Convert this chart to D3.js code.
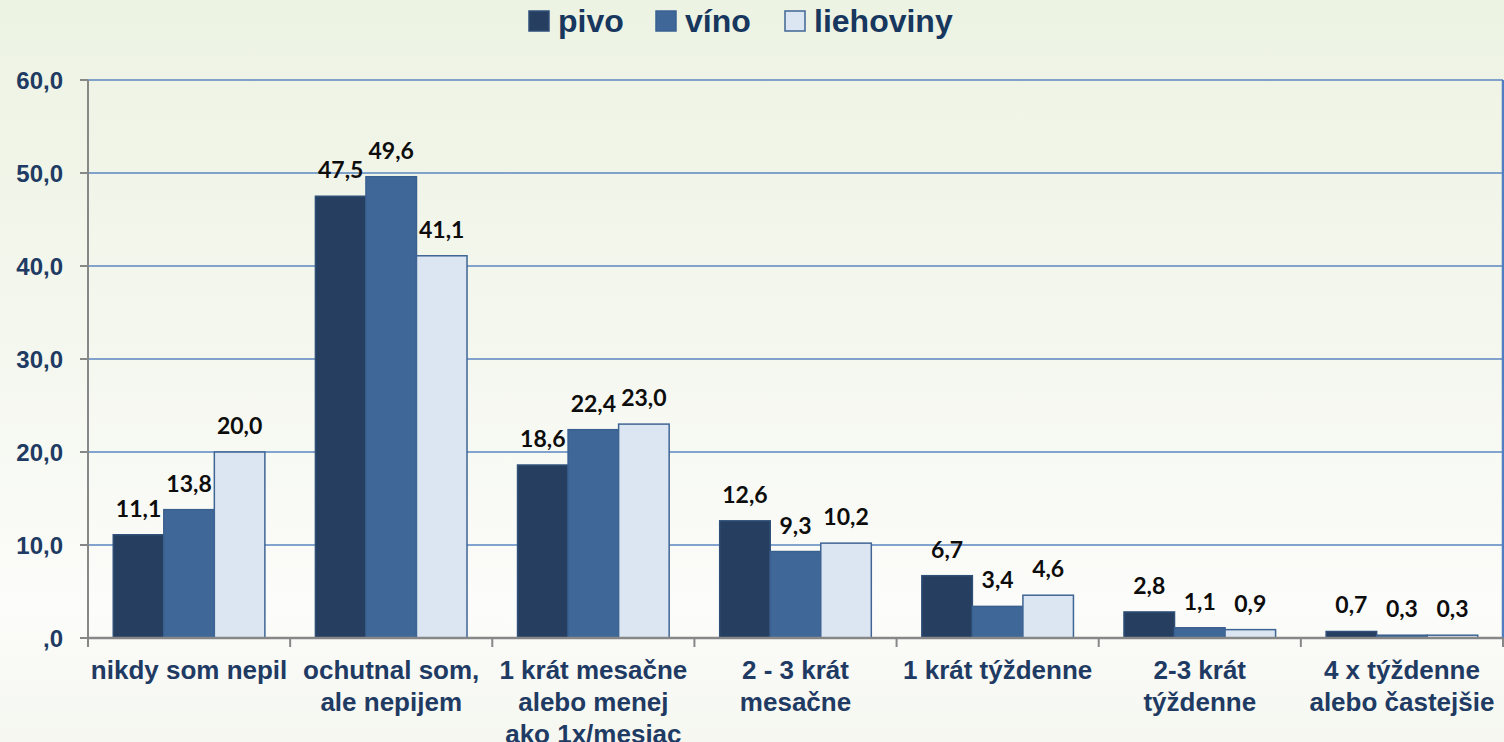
<!DOCTYPE html>
<html>
<head>
<meta charset="utf-8">
<script src="https://cdn.jsdelivr.net/npm/d3@7"></script>
<style>
  html, body { margin: 0; padding: 0; }
  body { width: 1504px; height: 742px; overflow: hidden; }
</style>
</head>
<body>
<svg id="chart" width="1504" height="742"></svg>
<script>
var categories = [
  ["nikdy som nepil"],
  ["ochutnal som,", "ale nepijem"],
  ["1 krát mesačne", "alebo menej", "ako 1x/mesiac"],
  ["2 - 3 krát", "mesačne"],
  ["1 krát týždenne"],
  ["2-3 krát", "týždenne"],
  ["4 x týždenne", "alebo častejšie"]
];
var seriesNames = ["pivo", "víno", "liehoviny"];
var pivo = [11.1, 47.5, 18.6, 12.6, 6.7, 2.8, 0.7];
var vino = [13.8, 49.6, 22.4, 9.3, 3.4, 1.1, 0.3];
var liehoviny = [20.0, 41.1, 23.0, 10.2, 4.6, 0.9, 0.3];
var yTicks = [0, 10, 20, 30, 40, 50, 60];

var fills = ["#263f61", "#3f6899", "#dce6f2"];
var strokes = ["#2f4f78", "#3a6090", "#3f6594"];
var values = [pivo, vino, liehoviny];

var svg = d3.select("#chart"),
    width = +svg.attr("width"),
    height = +svg.attr("height");

var plotLeft = 88, plotRight = 1503, plotTop = 80, plotBottom = 638;

// background gradient
var defs = svg.append("defs");
var grad = defs.append("linearGradient").attr("id", "bg")
    .attr("x1", 0).attr("y1", 0).attr("x2", 0).attr("y2", 1);
grad.append("stop").attr("offset", "0%").attr("stop-color", "#edf3e3");
grad.append("stop").attr("offset", "45%").attr("stop-color", "#f4f7ee");
grad.append("stop").attr("offset", "82%").attr("stop-color", "#fcfcfa");
grad.append("stop").attr("offset", "100%").attr("stop-color", "#f5f7f0");
svg.append("rect").attr("width", width).attr("height", height).attr("fill", "url(#bg)");

var catKeys = categories.map(function(c) { return c.join(" "); });

var x0 = d3.scaleBand().domain(catKeys).range([plotLeft, plotRight]).padding(0);
var x1 = d3.scaleBand().domain(seriesNames).range([0, x0.bandwidth()])
    .paddingInner(0).paddingOuter(0.5);
var y = d3.scaleLinear().domain([0, 60]).range([plotBottom, plotTop]);

// data labels: 0,7 ; axis: Excel "#,0" style gives ",0" for zero
function fmtLabel(v) {
  return d3.format(".1f")(v).replace(".", ",");
}
function fmtAxis(v) {
  var s = fmtLabel(v);
  if (s.indexOf("0,") === 0) s = s.slice(1);
  return s;
}

// grid lines
svg.append("g").selectAll("line")
    .data(yTicks.filter(function(d) { return d > 0; }))
    .enter().append("line")
    .attr("x1", plotLeft).attr("x2", plotRight)
    .attr("y1", function(d) { return y(d); })
    .attr("y2", function(d) { return y(d); })
    .attr("stroke", "#5a86c0").attr("stroke-width", 1.6);

// right border
svg.append("line")
    .attr("x1", plotRight).attr("x2", plotRight)
    .attr("y1", y(60)).attr("y2", plotBottom)
    .attr("stroke", "#4f7fc0").attr("stroke-width", 2.5);

// bars
var groups = svg.append("g").selectAll("g")
    .data(catKeys)
    .enter().append("g")
    .attr("transform", function(d) { return "translate(" + x0(d) + ",0)"; });

function rows(d, i) {
  return seriesNames.map(function(s, j) { return { s: s, j: j, v: values[j][i] }; });
}

groups.selectAll("rect")
    .data(rows)
    .enter().append("rect")
    .attr("x", function(d) { return x1(d.s); })
    .attr("width", x1.bandwidth())
    .attr("y", function(d) { return y(d.v); })
    .attr("height", function(d) { return y(0) - y(d.v); })
    .attr("fill", function(d) { return fills[d.j]; })
    .attr("stroke", function(d) { return strokes[d.j]; })
    .attr("stroke-width", 1.5);

groups.selectAll("text")
    .data(rows)
    .enter().append("text")
    .attr("x", function(d) { return x1(d.s) + x1.bandwidth() / 2; })
    .attr("y", function(d) { return y(d.v) - 18; })
    .attr("text-anchor", "middle")
    .attr("font-family", "Lato, 'Open Sans', sans-serif")
    .attr("font-weight", "bold")
    .attr("font-size", 23)
    .attr("fill", "#0d0d0d")
    .text(function(d) { return fmtLabel(d.v); });

// y axis
var axisColor = "#878787";
svg.append("line")
    .attr("x1", plotLeft).attr("x2", plotLeft).attr("y1", plotTop).attr("y2", plotBottom + 9)
    .attr("stroke", axisColor).attr("stroke-width", 2);
svg.append("g").selectAll("line")
    .data(yTicks).enter().append("line")
    .attr("x1", plotLeft - 8).attr("x2", plotLeft)
    .attr("y1", function(d) { return y(d); })
    .attr("y2", function(d) { return y(d); })
    .attr("stroke", axisColor).attr("stroke-width", 2);
svg.append("g").selectAll("text")
    .data(yTicks).enter().append("text")
    .attr("x", plotLeft - 25)
    .attr("y", function(d) { return y(d); })
    .attr("dy", "0.36em")
    .attr("text-anchor", "end")
    .attr("font-family", "'Liberation Sans', Arial, sans-serif")
    .attr("font-weight", "bold")
    .attr("font-size", 24)
    .attr("fill", "#1f3b63")
    .text(fmtAxis);

// x axis
svg.append("line")
    .attr("x1", plotLeft).attr("x2", plotRight).attr("y1", plotBottom).attr("y2", plotBottom)
    .attr("stroke", axisColor).attr("stroke-width", 2.5);
svg.append("g").selectAll("line")
    .data(catKeys.slice(1).concat(["end"])).enter().append("line")
    .attr("x1", function(d) { return d === "end" ? plotRight : x0(d); })
    .attr("x2", function(d) { return d === "end" ? plotRight : x0(d); })
    .attr("y1", plotBottom).attr("y2", plotBottom + 9)
    .attr("stroke", axisColor).attr("stroke-width", 2);

var catLabels = svg.append("g").selectAll("text")
    .data(categories).enter().append("text")
    .attr("x", function(d, i) { return x0(catKeys[i]) + x0.bandwidth() / 2; })
    .attr("y", 679)
    .attr("text-anchor", "middle")
    .attr("font-family", "'Liberation Sans', Arial, sans-serif")
    .attr("font-weight", "bold")
    .attr("font-size", 26)
    .attr("fill", "#1f3b63");
catLabels.selectAll("tspan")
    .data(function(d) { return d; })
    .enter().append("tspan")
    .attr("x", function() { return d3.select(this.parentNode).attr("x"); })
    .attr("dy", function(d, i) { return i === 0 ? 0 : 32; })
    .text(function(d) { return d; });

// legend
var legendX = [528, 655, 784];
var legend = svg.append("g").selectAll("g")
    .data(seriesNames).enter().append("g")
    .attr("transform", function(d, i) { return "translate(" + legendX[i] + ",0)"; });
legend.append("rect")
    .attr("x", 1).attr("y", 11).attr("width", 20).attr("height", 20)
    .attr("fill", function(d, i) { return fills[i]; })
    .attr("stroke", function(d, i) { return strokes[i]; })
    .attr("stroke-width", 1.5);
legend.append("text")
    .attr("x", 30).attr("y", 32)
    .attr("font-family", "'Liberation Sans', Arial, sans-serif")
    .attr("font-weight", "bold")
    .attr("font-size", 32)
    .attr("fill", "#17375e")
    .text(function(d) { return d; });
</script>
</body>
</html>
